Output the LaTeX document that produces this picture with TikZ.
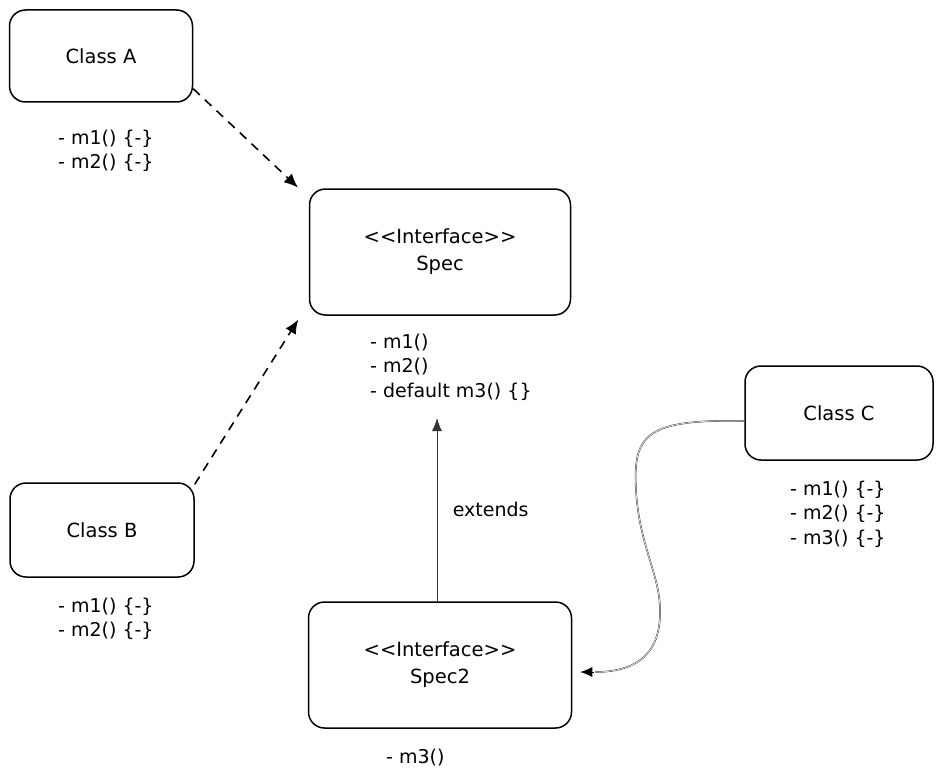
\documentclass[tikz,border=0pt]{standalone}
\usepackage{fontspec}
\setmainfont[Ligatures=NoCommon]{DejaVu Sans}
\usetikzlibrary{arrows.meta}

\begin{document}
\begin{tikzpicture}[x=1pt,y=-1pt,shorten >=1pt]

\tikzstyle{every node}=[font=\fontsize{19.5}{27}\selectfont]
\tikzstyle{classbox}=[draw=black,line width=1.5pt,rounded corners=16pt,align=center]
\tikzstyle{methods}=[align=left,anchor=west,inner sep=0pt,font=\fontsize{19}{24.5}\selectfont]
\tikzstyle{implements}=[line width=1.6pt,dash pattern=on 9pt off 7pt,-{Latex[length=14pt,width=12pt]}]
\tikzstyle{extendsline}=[line width=0.9pt,draw=black!80,-{Latex[length=13pt,width=10pt]}]

\useasboundingbox (0,0) rectangle (941,781);

\node[classbox,minimum width=183pt,minimum height=92pt] (classA) at (101,56) {Class A};
\node[classbox,minimum width=184pt,minimum height=94pt] (classB) at (102,530) {Class B};
\node[classbox,minimum width=188pt,minimum height=94pt] (classC) at (839,413) {Class C};
\node[classbox,minimum width=261pt,minimum height=126pt] (spec) at (440,252) {<{}<Interface>{}>\\Spec};
\node[classbox,minimum width=263pt,minimum height=126pt] (spec2) at (440,665) {<{}<Interface>{}>\\Spec2};

\node[methods] (methA) at (58,151) {- m1() \{-\}\\- m2() \{-\}};
\node[methods] (methB) at (58,619) {- m1() \{-\}\\- m2() \{-\}};
\node[methods] (methC) at (790,514) {- m1() \{-\}\\- m2() \{-\}\\- m3() \{-\}};
\node[methods] (methSpec) at (370,367) {- m1()\\- m2()\\- default m3() \{\}};
\node[methods] (methSpec2) at (386,758) {- m3()};

\coordinate (specin) at (437,417);
\coordinate (bendtop) at (636,490);
\coordinate (bendlow) at (660,610);
\coordinate (tipbase) at (594,672);

\draw[implements] ([yshift=14pt]classA.south east) -- ([xshift=-10pt]spec.north west);
\draw[implements] ([yshift=-2pt]classB.north east) -- ([xshift=-10pt,yshift=-3pt]spec.south west);
\draw[extendsline] ([xshift=-3pt]spec2.north) -- node[right=12pt,font=\fontsize{19}{22}\selectfont] {extends} (specin);
\draw[draw=black!75,double=white,double distance=0.6pt,line width=0.5pt]
  ([yshift=-8pt]classC.west) .. controls (645,419) and (633,435) .. (bendtop)
  .. controls (639,545) and (660,575) .. (bendlow)
  .. controls (661,655) and (635,672) .. (tipbase);
\draw[line width=0.9pt,-{Latex[length=12pt,width=10pt]}] (tipbase) -- ([xshift=7pt,yshift=-7pt]spec2.east);

\end{tikzpicture}
\end{document}
